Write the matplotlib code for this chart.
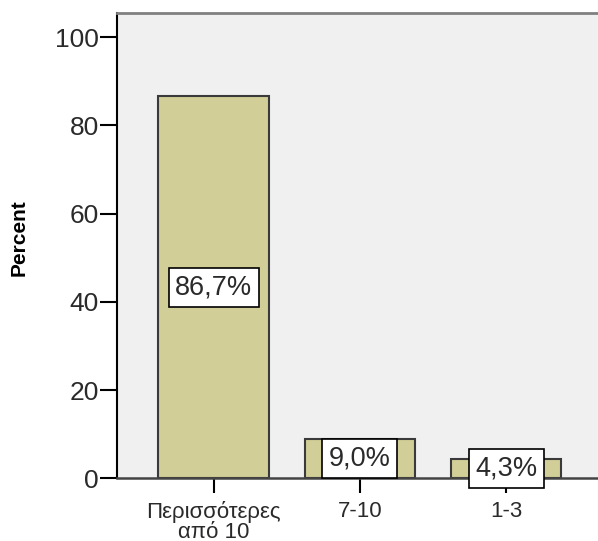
import matplotlib
matplotlib.use("Agg")
import matplotlib.pyplot as plt

# data
categories = ["Περισσότερες\nαπό 10", "7-10", "1-3"]
percent = [86.7, 9.0, 4.3]
bar_labels = ["86,7%", "9,0%", "4,3%"]
yticks = [0, 20, 40, 60, 80, 100]

plt.rcParams['font.family'] = ['Liberation Sans', 'DejaVu Sans']

fig = plt.figure(figsize=(5.98, 5.41), dpi=100)
ax = fig.add_axes([0.1952, 0.1159, 0.8048, 0.8595])
ax.set_facecolor('#F0F0F0')

x = list(range(len(categories)))
ax.bar(x, percent, width=0.755, color='#D2CE98', edgecolor='#3a3a3a', linewidth=1.5, zorder=2)

# value boxes in the middle of each bar
for xi, v, lab in zip(x, percent, bar_labels):
    ax.text(xi, v / 2, lab, ha='center', va='center', fontsize=19.5, color='#2a2a2a', zorder=3,
            bbox=dict(boxstyle='square,pad=0.24', facecolor='white', edgecolor='black', linewidth=1.2))

ax.set_xlim(-0.662, 2.628)
ax.set_ylim(0, 105.4)
ax.set_xticks(x)
ax.set_xticklabels(categories, fontsize=16, color='#2a2a2a', linespacing=0.95)
ax.set_yticks(yticks)
ax.set_yticklabels([str(t) for t in yticks], fontsize=19, color='#2a2a2a')
ax.tick_params(axis='y', length=12, width=1.5, pad=1)
ax.tick_params(axis='x', length=11, width=1.5, pad=5)

ax.set_ylabel('Percent', fontsize=15, fontweight='bold')
ax.yaxis.set_label_coords(-0.184, 0.518)

ax.spines['left'].set_linewidth(1.5)
ax.spines['left'].set_color('black')
ax.spines['bottom'].set_linewidth(1.8)
ax.spines['bottom'].set_color('#444444')
ax.spines['top'].set_linewidth(2)
ax.spines['top'].set_color('#808080')
ax.spines['right'].set_visible(False)

fig.savefig('out.png', dpi=100)
